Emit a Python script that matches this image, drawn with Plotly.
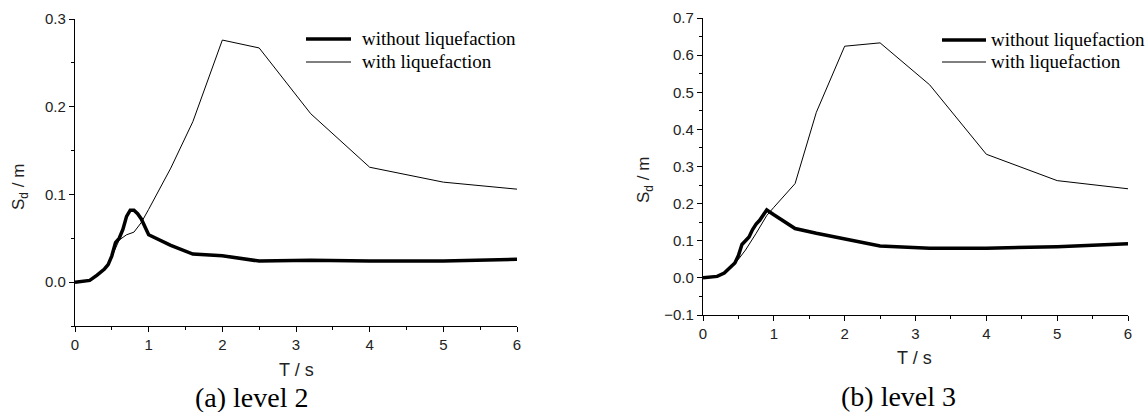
import plotly.graph_objects as go

# ---- data: panel (a) level 2 ----
a_T_wo = [0, 0.1, 0.2, 0.3, 0.4, 0.45, 0.5, 0.55, 0.6, 0.65, 0.7, 0.75, 0.8, 0.85, 0.9, 1.0, 1.3, 1.6, 2.0, 2.5, 3.2, 4.0, 5.0, 6.0]
a_S_wo = [0, 0.0005, 0.002, 0.008, 0.015, 0.02, 0.03, 0.045, 0.05, 0.06, 0.075, 0.082, 0.082, 0.078, 0.072, 0.054, 0.042, 0.032, 0.030, 0.024, 0.025, 0.024, 0.024, 0.026]
a_T_w = [0, 0.1, 0.2, 0.3, 0.4, 0.45, 0.5, 0.6, 0.7, 0.8, 0.9, 1.0, 1.3, 1.6, 2.0, 2.5, 3.2, 4.0, 5.0, 6.0]
a_S_w = [0, 0.0005, 0.002, 0.008, 0.015, 0.02, 0.03, 0.048, 0.054, 0.057, 0.068, 0.083, 0.13, 0.183, 0.276, 0.267, 0.192, 0.131, 0.114, 0.106]

# ---- data: panel (b) level 3 ----
b_T_wo = [0, 0.1, 0.2, 0.3, 0.4, 0.45, 0.5, 0.55, 0.6, 0.65, 0.7, 0.75, 0.8, 0.9, 1.0, 1.3, 1.6, 2.0, 2.5, 3.2, 4.0, 5.0, 6.0]
b_S_wo = [0, 0.001, 0.004, 0.013, 0.03, 0.04, 0.06, 0.09, 0.1, 0.11, 0.13, 0.145, 0.155, 0.183, 0.17, 0.133, 0.12, 0.104, 0.086, 0.08, 0.08, 0.084, 0.092]
b_T_w = [0, 0.1, 0.2, 0.3, 0.4, 0.45, 0.5, 0.6, 0.75, 0.9, 1.0, 1.3, 1.6, 2.0, 2.5, 3.2, 4.0, 5.0, 6.0]
b_S_w = [0, 0.001, 0.004, 0.013, 0.03, 0.04, 0.05, 0.075, 0.12, 0.168, 0.19, 0.254, 0.446, 0.624, 0.633, 0.52, 0.333, 0.262, 0.24]

names = ["without liquefaction", "with liquefaction"]
x_ticks = [0, 1, 2, 3, 4, 5, 6]

W, H = 1148, 412
def px(x): return x / W
def py(y): return 1 - y / H

fig = go.Figure()
THICK_W, THIN_W = 3.5, 1
thick = dict(color="black", width=THICK_W)
thin = dict(color="black", width=THIN_W)

fig.add_trace(go.Scatter(x=a_T_wo, y=a_S_wo, mode="lines", line=thick, name=names[0], xaxis="x", yaxis="y"))
fig.add_trace(go.Scatter(x=a_T_w, y=a_S_w, mode="lines", line=thin, name=names[1], xaxis="x", yaxis="y"))
fig.add_trace(go.Scatter(x=b_T_wo, y=b_S_wo, mode="lines", line=thick, name=names[0], xaxis="x2", yaxis="y2"))
fig.add_trace(go.Scatter(x=b_T_w, y=b_S_w, mode="lines", line=thin, name=names[1], xaxis="x2", yaxis="y2"))

tickfont = dict(family="Liberation Sans, Arial", size=15, color="#222")
common = dict(showline=True, linecolor="black", linewidth=1.2, ticks="outside", ticklen=5, tickwidth=1.2,
              tickcolor="black", showgrid=False, zeroline=False, tickfont=tickfont, automargin=False,
              minor=dict(ticks="outside", ticklen=3, tickwidth=1, tickcolor="black", showgrid=False))

fig.update_layout(
    width=W, height=H, margin=dict(l=0, r=0, t=0, b=0, autoexpand=False),
    paper_bgcolor="white", plot_bgcolor="white", showlegend=False,
    xaxis=dict(domain=[px(75), px(517)], range=[0, 6], tickvals=x_ticks, anchor="y",
               minor_dtick=0.5, **common),
    yaxis=dict(domain=[py(326), py(19)], range=[-0.05, 0.3], dtick=0.1, tick0=0, tickformat=".1f",
               anchor="x", minor_dtick=0.05, **common),
    xaxis2=dict(domain=[px(703), px(1128)], range=[0, 6], tickvals=x_ticks, anchor="y2",
                minor_dtick=0.5, **common),
    yaxis2=dict(domain=[py(315), py(18)], range=[-0.1, 0.7], dtick=0.1, tick0=0, tickformat=".1f",
                anchor="x2", minor_dtick=0.05, **common),
)

# manual legends (line samples + labels), positioned in paper pixels
lfont = dict(family="Liberation Serif, Times New Roman", size=19, color="black")
legends = [  # (line x0, line x1, text x, row y's)
    (306, 351, 360, [39, 62]),
    (942, 986, 989, [40, 62]),
]
for x0, x1, tx, rows in legends:
    for name, w, yy in zip(names, [THICK_W, THIN_W], rows):
        fig.add_shape(type="line", xref="paper", yref="paper", x0=px(x0), x1=px(x1), y0=py(yy), y1=py(yy),
                      line=dict(color="black", width=w))
        fig.add_annotation(xref="paper", yref="paper", x=px(tx), y=py(yy), text=name, showarrow=False,
                           xanchor="left", yanchor="middle", font=lfont)

afont = dict(family="Liberation Sans, Arial", size=18, color="#222")
yfont = dict(family="Liberation Sans, Arial", size=17, color="#222")
cfont = dict(family="Liberation Serif, Times New Roman", size=28, color="black")
ann = [
    dict(text="S<sub>d</sub> / m", x=px(20), y=py(187), textangle=-90, font=yfont),
    dict(text="S<sub>d</sub> / m", x=px(645), y=py(180), textangle=-90, font=yfont),
    dict(text="T / s", x=px(296), y=py(370), font=afont),
    dict(text="T / s", x=px(915), y=py(358), font=afont),
    dict(text="(a) level 2", x=px(252), y=py(397), font=cfont),
    dict(text="(b) level 3", x=px(899), y=py(396), font=cfont),
]
for a in ann:
    fig.add_annotation(xref="paper", yref="paper", showarrow=False, xanchor="center", yanchor="middle", **a)

fig.write_html("out.html")
